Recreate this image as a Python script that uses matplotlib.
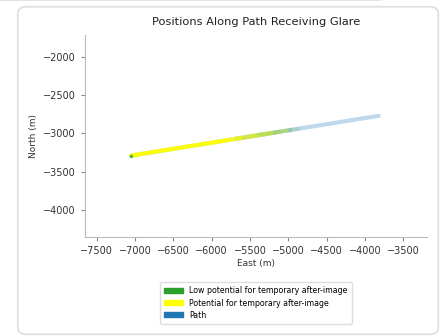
import matplotlib.pyplot as plt
from matplotlib.patches import FancyBboxPatch, Patch

# path end points (m)
path_east = [-7050, -3820]
path_north = [-3290, -2770]

# part of the path with potential for temporary after-image (fading at its end)
glare_east = [-7050, -5800, -5600, -5400, -5200, -5000]
glare_north = [-3290, -3089, -3057, -3024, -2992, -2960]
glare_alpha = [0.95, 0.8, 0.6, 0.45, 0.25]

# low potential part, fading out along the path
low_east = [-5700, -5400, -5100, -4950, -4850]
low_north = [-3073, -3024, -2976, -2952, -2936]
low_alpha = [0.35, 0.4, 0.3, 0.15]

fig = plt.figure(figsize=(4.45, 3.36), dpi=100)

# card frames of the screenshot
fig.patches.append(FancyBboxPatch((0.04, 0.005), 0.945, 0.975, boxstyle='round,pad=0,rounding_size=0.02',
                                  transform=fig.transFigure, fc='none', ec='#dddddd', lw=1.2))
fig.patches.append(FancyBboxPatch((-0.05, 1.0), 0.92, 0.2, boxstyle='round,pad=0,rounding_size=0.02',
                                  transform=fig.transFigure, fc='none', ec='#dddddd', lw=1.2))

ax = fig.add_axes([0.191, 0.295, 0.769, 0.601])

lw = 3.0
ax.plot(path_east, path_north, color='tab:blue', alpha=0.28, lw=lw, solid_capstyle='round')
for i, a in enumerate(low_alpha):
    ax.plot(low_east[i:i + 2], low_north[i:i + 2], color='tab:green', alpha=a, lw=lw, solid_capstyle='butt')
for i, a in enumerate(glare_alpha):
    ax.plot(glare_east[i:i + 2], glare_north[i:i + 2], color='yellow', alpha=a, lw=lw,
            solid_capstyle='round' if i == 0 else 'butt')
ax.plot(path_east[:1], path_north[:1], 'o', color='tab:green', ms=1.5, alpha=0.7)

ax.set_xlim(-7653, -3187)
ax.set_ylim(-4353, -1712)
ax.set_xticks(range(-7500, -3499, 500))
ax.set_yticks(range(-4000, -1999, 500))

for s in ['top', 'right']:
    ax.spines[s].set_visible(False)
for s in ['left', 'bottom']:
    ax.spines[s].set_color('#bbbbbb')
ax.tick_params(colors='#888888', labelcolor='#333333', labelsize=7, length=3)

ax.set_title('Positions Along Path Receiving Glare', fontsize=8.2, color='#222222', pad=7)
ax.set_xlabel('East (m)', fontsize=6.5, color='#333333', labelpad=2)
ax.set_ylabel('North (m)', fontsize=6.5, color='#333333')

handles = [Patch(color='tab:green'), Patch(color='yellow'), Patch(color='tab:blue')]
labels = ['Low potential for temporary after-image', 'Potential for temporary after-image', 'Path']
fig.legend(handles, labels, loc='center', bbox_to_anchor=(0.575, 0.098), fontsize=5.7,
           handlelength=2.4, handleheight=0.6, labelspacing=0.4, borderpad=0.5,
           framealpha=1, edgecolor='#dddddd')

fig.savefig('out.png', dpi=100)
